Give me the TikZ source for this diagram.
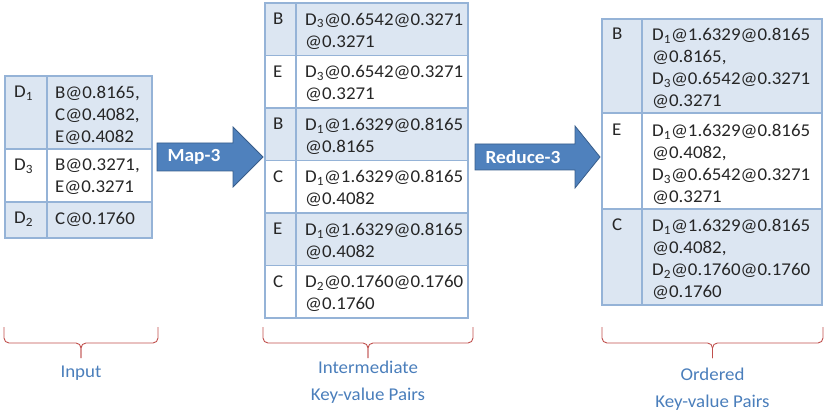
\documentclass[tikz,border=0pt]{standalone}
\usepackage{fontspec}
\setmainfont{Carlito}[FakeStretch=1.05]
\definecolor{rigachiara}{HTML}{DCE6F2}
\definecolor{bordoblu}{HTML}{95B3D7}
\definecolor{frecciablu}{HTML}{4F81BD}
\definecolor{frecciabordo}{HTML}{385D8A}
\definecolor{graffa}{HTML}{C0504D}
\definecolor{etichetta}{HTML}{4A7EBB}
\tikzset{
  testo/.style={anchor=north west,inner sep=0pt,align=left,
    font=\fontsize{18}{22}\selectfont,text=black!85},
  bordo/.style={draw=bordoblu,line width=1.4pt},
  freccia/.style={fill=frecciablu,draw=frecciabordo,line width=0.8pt},
  scritta/.style={text=white,font=\fontsize{18.5}{22}\selectfont\bfseries},
  etich/.style={align=center,text=etichetta,font=\fontsize{18}{27}\selectfont}
}
\newcommand{\Dsub}[1]{D\textsubscript{#1}}
\begin{document}
\begin{tikzpicture}[x=1pt,y=-1pt]
    \useasboundingbox (0,0) rectangle (825,414);

    % Tabella di input
    \fill[rigachiara] (5,76) rectangle (152,149);
    \fill[rigachiara] (5,202) rectangle (152,238);
    \draw[bordo] (5,76) rectangle (152,238);
    \draw[bordo] (47,76) -- (47,238);
    \foreach \y in {149,202} {
        \draw[bordo] (5,\y) -- (152,\y);
    }
    \node[testo] (k1) at (14,86) {\Dsub{1}};
    \node[testo] (v1) at (55,86) {B@0.8165,\\C@0.4082,\\E@0.4082};
    \node[testo] (k3) at (14,159) {\Dsub{3}};
    \node[testo] (v3) at (55,159) {B@0.3271,\\E@0.3271};
    \node[testo] (k2) at (14,212) {\Dsub{2}};
    \node[testo] (v2) at (55,212) {C@0.1760};

    % Coppie intermedie
    \foreach \k/\chiave/\valore in {0/B/{\Dsub{3}@0.6542@0.3271\\@0.3271},
                                  1/E/{\Dsub{3}@0.6542@0.3271\\@0.3271},
                                  2/B/{\Dsub{1}@1.6329@0.8165\\@0.8165},
                                  3/C/{\Dsub{1}@1.6329@0.8165\\@0.4082},
                                  4/E/{\Dsub{1}@1.6329@0.8165\\@0.4082},
                                  5/C/{\Dsub{2}@0.1760@0.1760\\@0.1760}} {
        \ifodd\k\else
            \fill[rigachiara] (265,{3+52.5*\k}) rectangle (468,{3+52.5*(\k+1)});
        \fi
        \node[testo] (ik\k) at (273,{13+52.5*\k}) {\chiave};
        \node[testo] (iv\k) at (305,{13+52.5*\k}) {\valore};
    }
    \draw[bordo] (265,3) rectangle (468,318);
    \draw[bordo] (296,3) -- (296,318);
    \foreach \k in {1,...,5} {
        \draw[bordo] (265,{3+52.5*\k}) -- (468,{3+52.5*\k});
    }

    % Coppie ordinate
    \fill[rigachiara] (602,19) rectangle (822,113);
    \fill[rigachiara] (602,209) rectangle (822,305);
    \draw[bordo] (602,19) rectangle (822,305);
    \draw[bordo] (642,19) -- (642,305);
    \foreach \y in {113,209} {
        \draw[bordo] (602,\y) -- (822,\y);
    }
    \node[testo] (ok1) at (612,28) {B};
    \node[testo] (ov1) at (652,28) {\Dsub{1}@1.6329@0.8165\\@0.8165,\\\Dsub{3}@0.6542@0.3271\\@0.3271};
    \node[testo] (ok2) at (612,124) {E};
    \node[testo] (ov2) at (652,124) {\Dsub{1}@1.6329@0.8165\\@0.4082,\\\Dsub{3}@0.6542@0.3271\\@0.3271};
    \node[testo] (ok3) at (612,219) {C};
    \node[testo] (ov3) at (652,219) {\Dsub{1}@1.6329@0.8165\\@0.4082,\\\Dsub{2}@0.1760@0.1760\\@0.1760};

    % Frecce
    \draw[freccia] (157,143) -- (233,143) -- (233,127) -- (263,157)
        -- (233,187) -- (233,171) -- (157,171) -- cycle;
    \node[scritta] (map) at (194,157) {Map-3};
    \draw[freccia] (475,144) -- (575,144) -- (575,126) -- (600,157)
        -- (575,188) -- (575,170) -- (475,170) -- cycle;
    \node[scritta] (reduce) at (523,157) {Reduce-3};

    % Graffe
    \foreach \l/\r in {4/158,263/473,602/823} {
        \draw[graffa,line width=0.9pt,rounded corners=5pt]
            (\l,327) |- ({(\l+\r)/2},343) -- ({(\l+\r)/2},358);
        \draw[graffa,line width=0.9pt,rounded corners=5pt]
            (\r,327) |- ({(\l+\r)/2},343) -- ({(\l+\r)/2},358);
    }

    % Etichette
    \node[etich] (input) at (81,373) {Input};
    \node[etich] (interm) at (368,382) {Intermediate\\Key-value Pairs};
    \node[etich] (ordinate) at (712.5,389) {Ordered\\Key-value Pairs};

\end{tikzpicture}
\end{document}
